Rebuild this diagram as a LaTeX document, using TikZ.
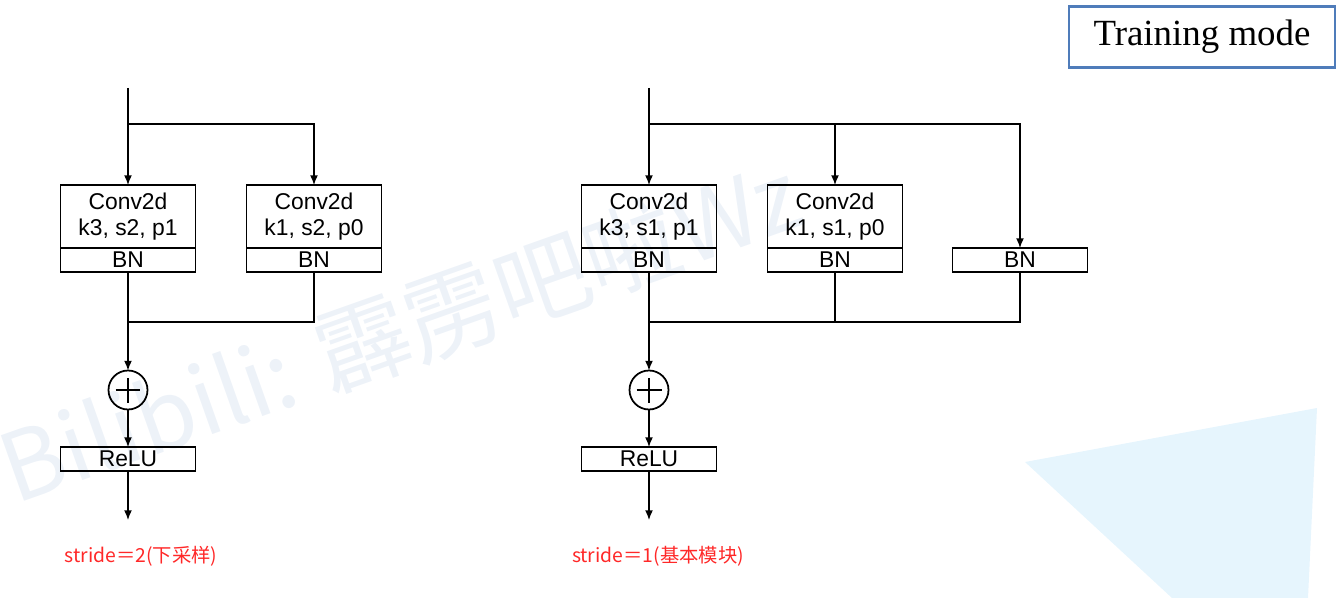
\documentclass[tikz,border=0pt]{standalone}
\usepackage{fontspec}
\setmainfont{Liberation Sans}
\newfontfamily\cjk{Noto Sans CJK SC}
\newfontfamily\serif{Liberation Serif}
\usepackage{tikz}
\usetikzlibrary{arrows.meta,positioning}

\definecolor{noteRed}{RGB}{255,40,40}
\definecolor{modeBlue}{RGB}{79,124,186}
\definecolor{markBlue}{RGB}{237,242,248}
\definecolor{cornerBlue}{RGB}{230,245,253}

\begin{document}
\begin{tikzpicture}[x=0.02cm, y=-0.02cm, line width=0.8pt,
  conv/.style={rectangle, draw, outer sep=0pt, minimum width=2.7cm, minimum height=1.26cm, align=center, font=\fontsize{13}{15}\selectfont},
  bn/.style={rectangle, draw, outer sep=0pt, minimum width=2.7cm, minimum height=0.48cm, inner sep=0pt, font=\fontsize{13}{14}\selectfont},
  adder/.style={circle, draw, line width=1pt, outer sep=0pt, minimum size=0.78cm, path picture={
      \draw ([xshift=-0.25cm]path picture bounding box.center) -- ([xshift=0.25cm]path picture bounding box.center);
      \draw ([yshift=-0.25cm]path picture bounding box.center) -- ([yshift=0.25cm]path picture bounding box.center);}},
  note/.style={text=noteRed, font=\cjk\fontsize{11}{13}\selectfont},
  arrow/.style={-{Latex[length=5.5pt,width=4.5pt]}}]
\useasboundingbox (0,0) rectangle (1342,598);
% background marks
\fill[cornerBlue] (1025,462) -- (1317,408) -- (1308,598) -- (1172,598) -- cycle;
\node[text=markBlue, font=\cjk\fontsize{54}{60}\selectfont, rotate=19.5] (mark) at (400,330) {Bilibili: 霹雳吧啦Wz};
\node[draw=modeBlue, line width=1.4pt, minimum width=5.32cm, minimum height=1.22cm, font=\serif\fontsize{21}{25}\selectfont] (mode) at (1202,37) {\raisebox{-2pt}{Training mode}};

% stride = 2
\coordinate (inA) at (128,88);
\coordinate (splitA) at (128,124);
\coordinate (joinA) at (128,322);
\coordinate (outA) at (128,520);
\node[conv] (convA1) at (128,216.5) {Conv2d\\ k3, s2, p1};
\node[bn, below=0pt of convA1] (bnA1) {BN};
\node[conv] (convA2) at (314,216.5) {Conv2d\\ k1, s2, p0};
\node[bn, below=0pt of convA2] (bnA2) {BN};
\node[adder] (addA) at (128,390) {};
\node[bn] (reluA) at (128,459) {ReLU};
\node[note] (strideA) at (141,556) {stride＝2(下采样)};
\draw[arrow] (inA) -- (convA1); \draw[arrow] (splitA) -| (convA2);
\draw (bnA2) |- (joinA); \draw[arrow] (bnA1) -- (addA);
\draw[arrow] (addA) -- (reluA); \draw[arrow] (reluA) -- (outA);

% stride = 1
\coordinate (inB) at (649,88);
\coordinate (splitB) at (649,124);
\coordinate (joinB) at (649,322);
\coordinate (outB) at (649,520);
\node[conv] (convB1) at (649,216.5) {Conv2d\\ k3, s1, p1};
\node[bn, below=0pt of convB1] (bnB1) {BN};
\node[conv] (convB2) at (835,216.5) {Conv2d\\ k1, s1, p0};
\node[bn, below=0pt of convB2] (bnB2) {BN};
\node[bn] (bnB3) at (1020,260) {BN};
\node[adder] (addB) at (649,390) {};
\node[bn] (reluB) at (649,459) {ReLU};
\node[note] (strideB) at (658,556) {stride＝1(基本模块)};
\draw[arrow] (inB) -- (convB1); \draw[arrow] (splitB) -| (convB2); \draw[arrow] (splitB) -| (bnB3);
\draw (bnB3) |- (joinB); \draw (bnB2) -- (bnB2 |- joinB); \draw[arrow] (bnB1) -- (addB);
\draw[arrow] (addB) -- (reluB); \draw[arrow] (reluB) -- (outB);
\end{tikzpicture}
\end{document}
